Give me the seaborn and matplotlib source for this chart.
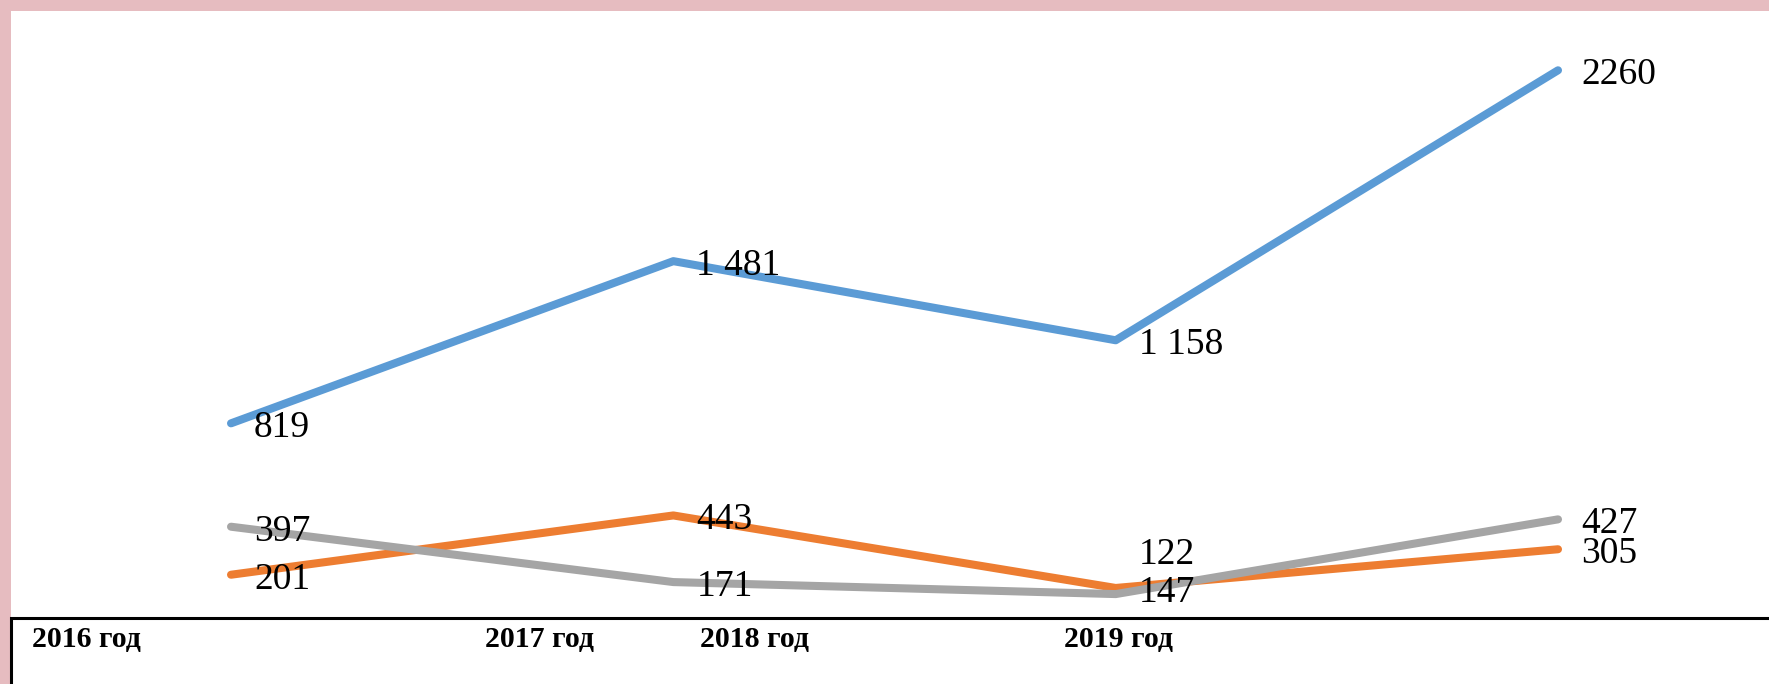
import matplotlib
matplotlib.use("Agg")
import pandas as pd
import matplotlib.pyplot as plt
import seaborn as sns
from matplotlib.patches import Rectangle

years = ["2016 год", "2017 год", "2018 год", "2019 год"]
series_names = ["Ряд 1", "Ряд 2", "Ряд 3"]
blue_vals = [819, 1481, 1158, 2260]
orange_vals = [201, 443, 147, 305]
gray_vals = [397, 171, 122, 427]
blue_labels = ["819", "1 481", "1 158", "2260"]
orange_labels = ["201", "443", "147", "305"]
gray_labels = ["397", "171", "122", "427"]
colors = ["#5b9bd5", "#ed7d31", "#a5a5a5"]

rows = []
for name, vals in zip(series_names, [blue_vals, orange_vals, gray_vals]):
    for i, v in enumerate(vals):
        rows.append({"series": name, "pos": i, "value": v})
df = pd.DataFrame(rows)

W, H = 1769, 684
sns.set_style("white")
plt.rcParams["font.family"] = ["Liberation Serif", "DejaVu Serif"]

fig = plt.figure(figsize=(W / 100, H / 100), dpi=100)
fig.patch.set_facecolor("#e6bcc0")
ax = fig.add_axes([11 / W, 0, (W - 11) / W, (H - 11) / H])
ax.set_facecolor("white")

sns.lineplot(data=df, x="pos", y="value", hue="series", palette=colors,
             linewidth=5.8, legend=False, sort=False, ax=ax)
for line in ax.lines:
    line.set_solid_capstyle("round")
    line.set_solid_joinstyle("round")

# data labels, right of each point
all_labels = [blue_labels, orange_labels, gray_labels]
all_vals = [blue_vals, orange_vals, gray_vals]
for s, (vals, labs) in enumerate(zip(all_vals, all_labels)):
    for i, (v, lab) in enumerate(zip(vals, labs)):
        dy = -10
        if s == 2 and i == 2:
            dy = 22  # moved up to avoid overlap
        ax.annotate(lab, (i, v), xytext=(16.5, dy), textcoords="offset points",
                    fontsize=27, ha="left", va="baseline", color="black")

ax.set_xlim(-0.4974, 3.477)
ax.set_ylim(-245, 2502)
ax.set_xticks([])
ax.set_yticks([])
ax.set_xlabel("")
ax.set_ylabel("")
for sp in ax.spines.values():
    sp.set_visible(False)

# box with category labels at the bottom
box = Rectangle((11 / W, -0.01), (W - 11) / W + 0.02, (H - 618) / H + 0.01,
                transform=fig.transFigure, facecolor="white", edgecolor="black",
                linewidth=2.2, zorder=5)
fig.add_artist(box)
label_x = [32, 485, 700, 1064]
for x, lab in zip(label_x, years):
    fig.text(x / W, 1 - 647 / H, lab, fontsize=21.5, fontweight="bold",
             ha="left", va="baseline", color="black", zorder=6)

fig.savefig("out.png", dpi=100)
